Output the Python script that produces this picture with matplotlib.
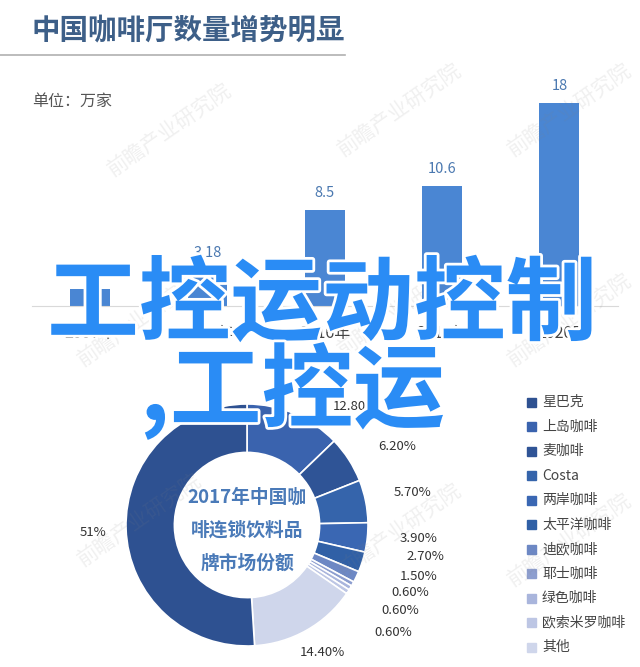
import numpy as np
import matplotlib
matplotlib.use('Agg')
import matplotlib.pyplot as plt
import matplotlib.patheffects as pe

plt.rcParams['font.family'] = ['Noto Sans CJK SC', 'DejaVu Sans']

## bar data
years = ['2007年', '2012年', '2016年', '2017年', '2020E']
shops = [1.5, 3.18, 8.5, 10.6, 18]
shop_labels = ['1.5', '3.18', '8.5', '10.6', '18']

## donut data (legend order)
brands = ['星巴克', '上岛咖啡', '麦咖啡', 'Costa', '两岸咖啡', '太平洋咖啡',
          '迪欧咖啡', '耶士咖啡', '绿色咖啡', '欧索米罗咖啡', '其他']
shares = [51, 12.8, 6.2, 5.7, 3.9, 2.7, 1.5, 0.6, 0.6, 0.6, 14.4]
share_labels = ['51%', '12.80%', '6.20%', '5.70%', '3.90%', '2.70%',
                '1.50%', '0.60%', '0.60%', '0.60%', '14.40%']
brand_colors = ['#2e5191', '#3a63ae', '#2f5496', '#3564ab', '#3a67b3', '#3060a6',
                '#6d88c4', '#8d9ecf', '#a9b5dc', '#bdc6e4', '#cfd6eb']

W, H = 640, 667
fig = plt.figure(figsize=(6.4, 6.67), dpi=100)
fig.patch.set_facecolor('white')

def fx(px):
    return px / W

def fy(py):
    return 1 - py / H

# watermarks
for (wx, wy) in [(170, 130), (400, 110), (570, 110), (140, 320), (400, 310),
                 (570, 320), (140, 520), (400, 530), (570, 540)]:
    fig.text(fx(wx), fy(wy), '前瞻产业研究院', fontsize=15, color='#808080', alpha=0.12,
             rotation=35, ha='center', va='center', zorder=5)

# title
fig.text(fx(32), fy(30), '中国咖啡厅数量增势明显', fontsize=20.5, fontweight='bold',
         color='#3d5f88', ha='left', va='center')
fig.add_artist(plt.Line2D([0, fx(345)], [fy(55), fy(55)], color='#b0b0b0', lw=1.2))
fig.text(fx(32), fy(101), '单位：万家', fontsize=11.5, color='#555555',
         ha='left', va='center')

## bar chart
ax = fig.add_axes([fx(31.5), fy(306), fx(618) - fx(31.5), fy(306 - 225.6) - fy(306)])
x = np.arange(len(years))
bars = ax.bar(x, shops, width=0.34, color='#4a86d3', zorder=2)
for xi, v, lab in zip(x, shops, shop_labels):
    ax.text(xi, v + 0.9, lab, ha='center', va='bottom', fontsize=10.5, color='#4a78b0')
ax.set_xlim(-0.5, 4.5)
ax.set_ylim(0, 20)
ax.set_xticks(x)
ax.set_xticklabels(years, fontsize=11.5, color='#444444')
ax.tick_params(axis='x', length=0, pad=14)
ax.set_yticks([])
for s in ['top', 'right', 'left']:
    ax.spines[s].set_visible(False)
ax.spines['bottom'].set_color('#d9d9d9')
ax.patch.set_alpha(0)

## donut
cx, cy, r = 247, 525, 121
pax = fig.add_axes([fx(cx - r), fy(cy + r), 2 * r / W, 2 * r / H])
order = list(range(1, len(brands))) + [0]
wedges, _ = pax.pie([shares[i] for i in order], colors=[brand_colors[i] for i in order],
                    startangle=90, counterclock=False, radius=1,
                    wedgeprops=dict(width=0.4, edgecolor='white', linewidth=1.2))
pax.set_xlim(-1, 1)
pax.set_ylim(-1, 1)
pax.set_aspect('auto')
pax.axis('off')

# label positions in pixels, in legend order
lab_pos = [(93, 533), (355, 407), (397, 446), (413, 493), (419, 538), (425, 556),
           (419, 577), (410, 593), (400, 611), (393, 633), (322, 652)]
for (lx, ly), lab in zip(lab_pos, share_labels):
    fig.text(fx(lx), fy(ly), lab, fontsize=9.5, color='#333333', ha='center', va='center')

center_lines = ['2017年中国咖', '啡连锁饮料品', '牌市场份额']
for i, t in enumerate(center_lines):
    fig.text(fx(cx), fy(497 + 33 * i), t, fontsize=13.5, fontweight='bold',
             color='#4a7ab8', ha='center', va='center')

# legend
for i, (b, c) in enumerate(zip(brands, brand_colors)):
    yy = 402 + 24.5 * i
    fig.add_artist(plt.Rectangle((fx(527), fy(yy + 4.5)), 9 / W, 9 / H,
                                 transform=fig.transFigure, color=c))
    fig.text(fx(542), fy(yy), b, fontsize=10, color='#444444', ha='left', va='center')

# overlay text
stroke = [pe.withStroke(linewidth=4, foreground='white')]
fig.text(fx(322), fy(306), '工控运动控制', fontsize=66, fontweight='bold',
         color='#2a8cf5', ha='center', va='center', path_effects=stroke, zorder=10)
fig.text(fx(140), fy(391), ',工控运', fontsize=66, fontweight='bold',
         color='#2a8cf5', ha='left', va='center', path_effects=stroke, zorder=10)

fig.savefig('out.png', dpi=100, facecolor='white')
